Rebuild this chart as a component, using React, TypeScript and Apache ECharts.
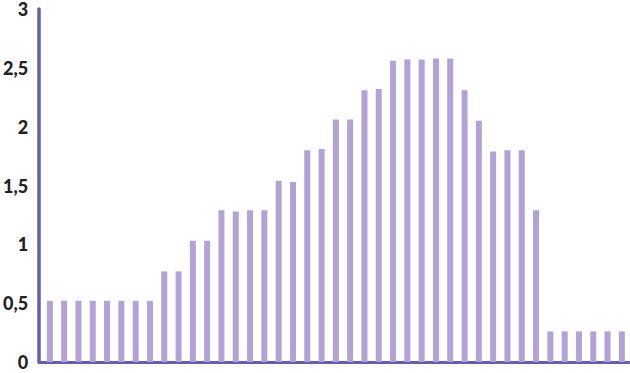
import React, { useEffect, useRef } from "react";
import * as echarts from "echarts";

const values: number[] = [
  0.52, 0.52, 0.52, 0.52, 0.52, 0.52, 0.52, 0.52,
  0.77, 0.77,
  1.03, 1.03,
  1.29, 1.28, 1.29, 1.29,
  1.54, 1.53,
  1.8, 1.81,
  2.06, 2.06,
  2.31, 2.32,
  2.56, 2.57, 2.57, 2.58, 2.58,
  2.31,
  2.05,
  1.79, 1.8, 1.8,
  1.29,
  0.26, 0.26, 0.26, 0.26, 0.26, 0.26,
];
const yTicks: number[] = [0, 0.5, 1, 1.5, 2, 2.5, 3];

export default function App() {
  const ref = useRef<HTMLDivElement>(null);
  useEffect(() => {
    if (!ref.current) return;
    const chart = echarts.init(ref.current, undefined, { renderer: "svg" });
    chart.setOption({
      animation: false,
      grid: { left: 38, right: 1, top: 4, bottom: 11, containLabel: false },
      xAxis: {
        type: "value",
        min: -0.75,
        max: values.length - 0.5,
        axisLine: { show: true, onZero: false, lineStyle: { color: "#645fa8", width: 3 } },
        axisTick: { show: false },
        axisLabel: { show: false },
        splitLine: { show: false },
      },
      yAxis: {
        type: "value",
        min: yTicks[0],
        max: yTicks[yTicks.length - 1],
        interval: 0.5,
        axisLine: { show: true, onZero: false, lineStyle: { color: "#645fa8", width: 3.5 } },
        axisTick: { show: false },
        splitLine: { show: false },
        axisLabel: {
          margin: 11,
          color: "#222222",
          fontFamily: "Lato",
          fontWeight: 900,
          fontSize: 18,
          padding: [4, 0, 0, 0],
          formatter: (v: number) => String(v).replace(".", ","),
        },
      },
      series: [
        {
          type: "bar",
          data: values.map((v, i) => [i, v]),
          barWidth: 6,
          itemStyle: { color: "#b3a2d6" },
        },
      ],
    });
    return () => chart.dispose();
  }, []);
  return (
    <div
      ref={ref}
      style={{ position: "absolute", left: 0, top: 0, width: 630, height: 373 }}
    />
  );
}
